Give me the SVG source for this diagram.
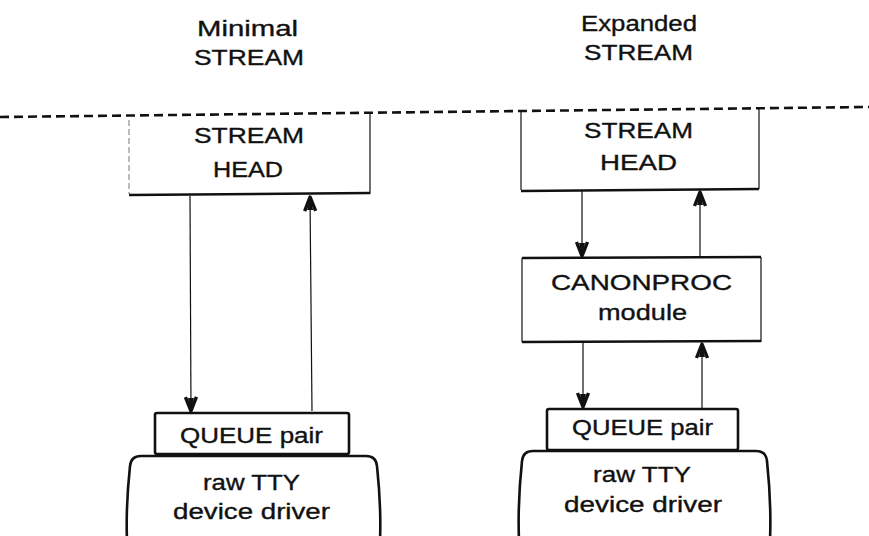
<svg xmlns="http://www.w3.org/2000/svg" width="869" height="536" viewBox="0 0 869 536">
<defs>
<style>
text{font-family:"Liberation Sans",Arial,sans-serif;font-size:22px;fill:#111;stroke:#111;stroke-width:0.35;text-anchor:middle}
.thin{stroke:#111;stroke-width:1.2;fill:none}
.thick{stroke:#111;stroke-width:2.6;fill:none}
.faint{stroke:#777;stroke-width:1;fill:none;stroke-dasharray:6 3}
.conn{stroke:#111;stroke-width:1.2;fill:none;marker-end:url(#ah)}
</style>
<marker id="ah" markerUnits="userSpaceOnUse" markerWidth="22" markerHeight="18" viewBox="-19 -9 22 18" refX="0" refY="0" orient="auto">
<path d="M-15,-5.5 L-1,0 L-15,5.5" fill="none" stroke="#111" stroke-width="3.4" stroke-linejoin="round"/>
<path d="M-14,-3 L-1,0 L-14,3 Z" fill="#111"/>
</marker>
</defs>
<rect width="869" height="536" fill="#fff"/>

<g id="titles">
<text x="247.5" y="36" textLength="101" lengthAdjust="spacingAndGlyphs">Minimal</text>
<text x="249" y="65" textLength="110" lengthAdjust="spacingAndGlyphs">STREAM</text>
<text x="639" y="31" textLength="116" lengthAdjust="spacingAndGlyphs">Expanded</text>
<text x="638.5" y="60" textLength="109" lengthAdjust="spacingAndGlyphs">STREAM</text>
</g>

<g id="boundary">
<line x1="0" y1="117" x2="869" y2="107" stroke="#111" stroke-width="2.6" stroke-dasharray="9 5"/>
</g>

<g id="left-stream-head">
<line class="faint" x1="129" y1="120" x2="129" y2="194"/>
<line class="thin" x1="370" y1="113" x2="370" y2="194"/>
<line class="thick" x1="129" y1="195" x2="370" y2="193"/>
<text x="249" y="143" textLength="110" lengthAdjust="spacingAndGlyphs">STREAM</text>
<text x="248" y="177" textLength="70" lengthAdjust="spacingAndGlyphs">HEAD</text>
</g>

<g id="right-stream-head">
<line class="thin" x1="521" y1="110" x2="521" y2="190"/>
<line class="thin" x1="759" y1="107" x2="759" y2="189"/>
<line class="thick" x1="521" y1="191" x2="759" y2="189"/>
<text x="638.5" y="138" textLength="109" lengthAdjust="spacingAndGlyphs">STREAM</text>
<text x="638.5" y="170" textLength="77" lengthAdjust="spacingAndGlyphs">HEAD</text>
</g>

<g id="canonproc">
<line class="thin" x1="522" y1="258" x2="522" y2="342"/>
<line class="thin" x1="761" y1="257" x2="761" y2="342"/>
<line class="thick" x1="522" y1="258" x2="761" y2="257"/>
<line class="thick" x1="522" y1="342" x2="761" y2="341"/>
<text x="641.5" y="290" textLength="181" lengthAdjust="spacingAndGlyphs">CANONPROC</text>
<text x="642.5" y="320" textLength="89" lengthAdjust="spacingAndGlyphs">module</text>
</g>

<g id="left-queue">
<rect class="thick" x="155" y="413" width="194" height="41" rx="2"/>
<text x="251.5" y="443" textLength="143" lengthAdjust="spacingAndGlyphs">QUEUE pair</text>
</g>

<g id="left-driver">
<path class="thick" d="M127,540 C126,515 128,485 130,466 Q131,456 141,456 L366,456 Q376,456 377,466 C379,485 381,515 380,540"/>
<text x="251.5" y="490" textLength="97" lengthAdjust="spacingAndGlyphs">raw TTY</text>
<text x="251.5" y="519" textLength="157" lengthAdjust="spacingAndGlyphs">device driver</text>
</g>

<g id="right-queue">
<rect class="thick" x="547" y="409" width="191" height="41" rx="2"/>
<text x="642.5" y="435" textLength="141" lengthAdjust="spacingAndGlyphs">QUEUE pair</text>
</g>

<g id="right-driver">
<path class="thick" d="M519,540 C518,515 520,480 522,461 Q523,451 533,451 L756,451 Q766,451 767,461 C769,480 771,515 770,540"/>
<text x="642" y="482" textLength="98" lengthAdjust="spacingAndGlyphs">raw TTY</text>
<text x="643" y="512" textLength="158" lengthAdjust="spacingAndGlyphs">device driver</text>
</g>

<g id="connectors">
<line class="conn" x1="190" y1="196" x2="191" y2="412"/>
<line class="conn" x1="312" y1="411" x2="310" y2="196"/>
<line class="conn" x1="582" y1="191" x2="582" y2="257"/>
<line class="conn" x1="700" y1="256" x2="700" y2="191"/>
<line class="conn" x1="583" y1="343" x2="583" y2="408"/>
<line class="conn" x1="702" y1="408" x2="702" y2="343"/>
</g>
</svg>
